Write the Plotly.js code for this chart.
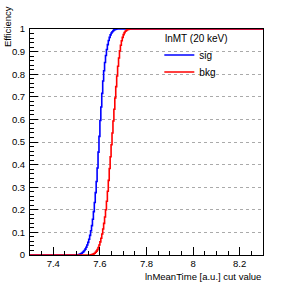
<!DOCTYPE html>
<html>
<head>
<meta charset="utf-8">
<script src="https://cdn.plot.ly/plotly-3.0.1.min.js"></script>
<style>html,body{margin:0;padding:0;background:#fff;}#chart{width:293px;height:284px;}</style>
</head>
<body>
<div id="chart"></div>
<script>
// signal efficiency vs cut value (step histogram)
const sigX = [7.300,7.500,7.504,7.508,7.512,7.516,7.520,7.524,7.528,7.532,7.536,7.540,7.544,7.548,7.552,7.556,7.560,7.564,7.568,7.572,7.576,7.580,7.584,7.588,7.592,7.596,7.600,7.604,7.608,7.612,7.616,7.620,7.624,7.628,7.632,7.636,7.640,7.644,7.648,7.652,7.656,7.660,7.664,7.668,7.672,8.300];
const sigY = [0.000,0.000,0.001,0.002,0.003,0.005,0.008,0.011,0.015,0.020,0.026,0.034,0.044,0.056,0.070,0.087,0.107,0.130,0.158,0.192,0.232,0.276,0.325,0.385,0.455,0.525,0.595,0.655,0.715,0.770,0.815,0.852,0.883,0.909,0.931,0.949,0.963,0.974,0.982,0.988,0.993,0.996,0.998,0.999,1.000,1.000];
// background efficiency vs cut value
const bkgX = [7.300,7.556,7.560,7.564,7.568,7.572,7.576,7.580,7.584,7.588,7.592,7.596,7.600,7.604,7.608,7.612,7.616,7.620,7.624,7.628,7.632,7.636,7.640,7.644,7.648,7.652,7.656,7.660,7.664,7.668,7.672,7.676,7.680,7.684,7.688,7.692,7.696,7.700,7.704,7.708,7.712,7.716,7.720,7.724,7.728,8.300];
const bkgY = [0.000,0.000,0.001,0.002,0.003,0.005,0.008,0.012,0.017,0.024,0.033,0.044,0.058,0.074,0.093,0.115,0.140,0.168,0.200,0.238,0.282,0.330,0.383,0.435,0.488,0.540,0.593,0.645,0.695,0.745,0.792,0.835,0.872,0.903,0.928,0.948,0.963,0.975,0.984,0.990,0.994,0.997,0.998,0.999,1.000,1.000];
const seriesNames = ['sig','bkg'];
const legendTitle = 'lnMT (20 keV)';
const xTitle = 'lnMeanTime [a.u.] cut value';
const yTitle = 'Efficiency';

const font = 'Liberation Sans, Arial, Helvetica, sans-serif';
const traces = [
  {x: sigX, y: sigY, name: seriesNames[0], type: 'scatter', mode: 'lines', legend: 'legend',
   line: {color: '#0000ff', width: 1.6, shape: 'hv'}},
  {x: bkgX, y: bkgY, name: seriesNames[1], type: 'scatter', mode: 'lines', legend: 'legend2',
   line: {color: '#ff0000', width: 1.6, shape: 'hv'}}
];
const legStyle = {xanchor: 'left', yanchor: 'middle', bgcolor: 'rgba(0,0,0,0)', borderwidth: 0,
  font: {family: font, size: 10, color: '#000'}, itemwidth: 30};
const layout = {
  width: 293, height: 284,
  margin: {l: 30, r: 30, t: 29, b: 29, pad: 0},
  paper_bgcolor: '#fff', plot_bgcolor: '#fff',
  font: {family: font, size: 9, color: '#000'},
  showlegend: true,
  legend: Object.assign({x: 0.555, y: 0.885}, legStyle),
  legend2: Object.assign({x: 0.555, y: 0.81}, legStyle),
  xaxis: {range: [7.3, 8.3], tickvals: [7.4, 7.6, 7.8, 8.0, 8.2], ticktext: ['7.4','7.6','7.8','8','8.2'],
    ticks: 'inside', ticklen: 8, tickcolor: '#000', tickwidth: 1,
    minor: {dtick: 0.05, tick0: 7.3, ticks: 'inside', ticklen: 4, tickcolor: '#000', showgrid: false},
    showgrid: false, zeroline: false, showline: true, linecolor: '#000', linewidth: 1, mirror: true,
    tickfont: {family: font, size: 9.5, color: '#000'}},
  yaxis: {range: [0, 1], dtick: 0.1, tick0: 0,
    ticks: 'inside', ticklen: 8, tickcolor: '#000', tickwidth: 1,
    minor: {dtick: 0.02, ticks: 'inside', ticklen: 4, tickcolor: '#000', showgrid: false},
    showgrid: true, gridcolor: '#aaa', griddash: 'dot', gridwidth: 1,
    zeroline: false, showline: true, linecolor: '#000', linewidth: 1, mirror: true,
    ticklabelstandoff: 2,
    tickfont: {family: font, size: 9.5, color: '#000'}},
  annotations: [
    {text: xTitle, xref: 'paper', yref: 'paper', x: 1, y: 0, xanchor: 'right', yanchor: 'top', yshift: -14,
     showarrow: false, font: {family: font, size: 9.5, color: '#000'}},
    {text: yTitle, xref: 'paper', yref: 'paper', x: 0, y: 1, xanchor: 'center', yanchor: 'middle',
     xshift: -23, yshift: 2, textangle: -90,
     showarrow: false, font: {family: font, size: 9.5, color: '#000'}},
    {text: legendTitle, xref: 'paper', yref: 'paper', x: 0.571, y: 0.96, xanchor: 'left', yanchor: 'middle',
     showarrow: false, font: {family: font, size: 10, color: '#000'}}
  ]
};
Plotly.newPlot('chart', traces, layout, {displayModeBar: false, staticPlot: true});
</script>
</body>
</html>
